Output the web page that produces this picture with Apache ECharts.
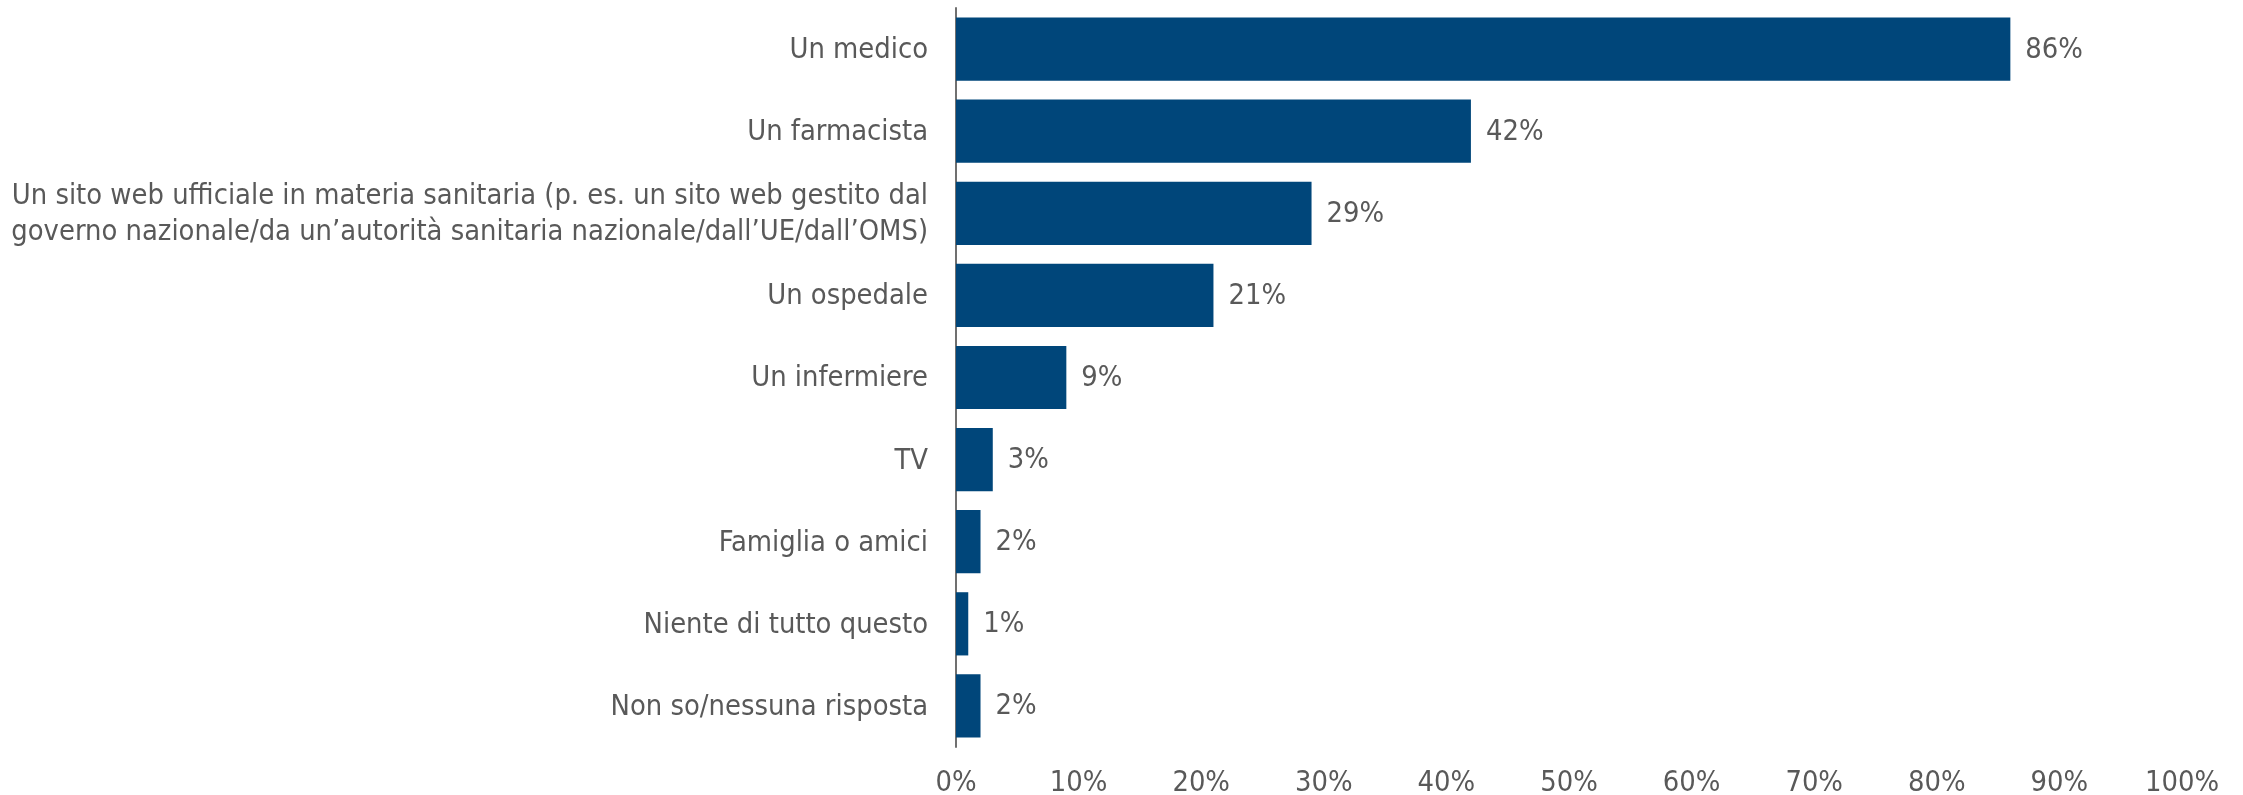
<!DOCTYPE html>
<html>
<head>
<meta charset="utf-8">
<script src="https://cdn.jsdelivr.net/npm/echarts@6/dist/echarts.min.js"></script>
<style>
html,body{margin:0;padding:0;background:#fff;}
#chart{width:2243px;height:795px;}
</style>
</head>
<body>
<div id="chart"></div>
<script>
const categories = [
  "Un medico",
  "Un farmacista",
  "Un sito web ufficiale in materia sanitaria (p. es. un sito web gestito dal\ngoverno nazionale/da un’autorità sanitaria nazionale/dall’UE/dall’OMS)",
  "Un ospedale",
  "Un infermiere",
  "TV",
  "Famiglia o amici",
  "Niente di tutto questo",
  "Non so/nessuna risposta"
];
const values = [86, 42, 29, 21, 9, 3, 2, 1, 2];
const axisMin = 0, axisMax = 100, axisStep = 10;

const FONT = '"DejaVu Sans Condensed", "DejaVu Sans", sans-serif';
const TEXT = '#595959';

const chart = echarts.init(document.getElementById('chart'), null, {renderer: 'canvas'});
chart.setOption({
  animation: false,
  backgroundColor: '#ffffff',
  grid: {left: 956, right: 61, top: 8, bottom: 48, containLabel: false, outerBoundsMode: 'none'},
  xAxis: {
    type: 'value', min: axisMin, max: axisMax, interval: axisStep,
    axisLine: {show: false}, axisTick: {show: false}, splitLine: {show: false},
    axisLabel: {formatter: '{value}%', margin: 22, fontSize: 28.8, color: TEXT, fontFamily: FONT}
  },
  yAxis: {
    type: 'category', data: categories, inverse: true,
    axisLine: {show: true, lineStyle: {color: '#707070', width: 2}},
    axisTick: {show: false}, splitLine: {show: false},
    axisLabel: {
      margin: 28, align: 'right',
      formatter: function (v) { return v.split('\n').map(function (s) { return '{a|' + s + '}'; }).join('\n'); },
      rich: {a: {fontSize: 28.8, lineHeight: 36, color: TEXT, fontFamily: FONT, align: 'right', padding: [3, 0, 0, 0]}}
    }
  },
  series: [{
    type: 'bar', data: values, barCategoryGap: '23%',
    itemStyle: {color: '#00467A'},
    label: {show: true, position: 'right', distance: 15, offset: [0, 1], formatter: '{c}%', fontSize: 28.8, color: TEXT, fontFamily: FONT}
  }]
});
</script>
</body>
</html>
